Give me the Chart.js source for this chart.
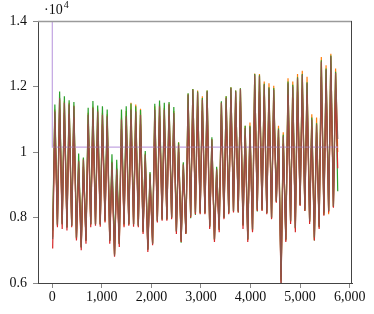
<!DOCTYPE html>
<html>
<head>
<meta charset="utf-8">
<script src="https://cdn.jsdelivr.net/npm/chart.js@4"></script>
<style>
  html, body { margin: 0; padding: 0; background: #fff; }
  #wrap { width: 374px; height: 314px; }
</style>
</head>
<body>
<div id="wrap"><canvas id="loadChart" width="374" height="314"></canvas></div>
<script>
// Данные: 60 суток по 96 отсчётов, для каждых суток — минимум (ночь) и максимум (день)
const samplesPerDay = 96;
const dayCount = 60;
const lastSample = 5759;

const brownLow = [7340,7790,7790,7690,7740,7390,7080,7290,7790,7790,
  7790,7900,7290,6830,7190,7790,7790,7790,7740,7560,
  7010,7190,7900,7950,7950,8000,7590,7290,7540,8050,
  8150,8150,8150,7740,7340,7640,8000,8150,8200,8200,
  7790,7340,7640,8250,8250,8150,8000,8500,5900,7340,
  7900,7690,8400,8250,7900,7390,7740,8150,8200,8350];
const brownPeak = [11240,11650,11500,11450,11400,9720,9770,11140,11340,11240,
  11140,11090,9670,9470,10990,11090,11300,11240,11140,9920,
  9320,11290,11400,11290,11450,11190,10230,9620,11750,11900,
  11820,11600,11850,10380,9470,11500,11650,11950,11850,11920,
  10730,10760,12360,12310,12050,11950,11900,10680,10480,12100,
  12000,12250,12360,12100,10990,10840,12760,12510,12920,12410];

const greenLow = [7600,7750,7820,7700,7760,7350,7100,7300,7800,7800,
  7800,7920,7300,6880,7200,7800,7800,7800,7760,7580,
  7050,7220,7880,7930,7940,7990,7560,7230,7500,7980,
  8080,8130,8120,7700,7320,7620,7990,8120,8180,8150,
  7750,7320,7600,8180,8220,8130,7990,8480,6100,7300,
  7880,7680,8380,8200,7860,7300,7700,8080,8200,8320];
const greenPeak = [11450,11850,11700,11580,11530,9950,9830,11350,11560,11420,
  11400,11300,9930,9760,11300,11400,11480,11400,11280,10030,
  9390,11470,11570,11500,11530,11370,10290,9690,11790,11920,
  11850,11650,11880,10450,9550,11550,11700,11980,11880,11950,
  10800,10800,12380,12340,12080,11980,11950,10720,10530,12150,
  12050,12280,12380,12130,11050,10880,12800,12550,12950,12450];

const orangeLow = [7400,7780,7800,7700,7750,7380,7090,7300,7780,7800,
  7780,7880,7280,6850,7200,7750,7780,7800,7750,7550,
  7020,7200,7900,7960,7940,8000,7600,7300,7520,8020,
  8120,8150,8140,7720,7330,7630,7990,8140,8190,8190,
  7780,7330,7620,8230,8240,8140,7980,8480,6050,7320,
  7880,7660,8380,8230,7880,7320,7700,8120,8100,8320];
const orangePeak = [11300,11600,11550,11500,11420,9750,9800,11200,11380,11300,
  11200,11150,9700,9500,11050,11250,11500,11450,11320,9950,
  9350,11400,11450,11350,11480,11250,10300,9650,11780,11920,
  11880,11700,11880,10400,9500,11520,11700,11980,11880,11950,
  10800,10900,12400,12380,12150,12100,12020,10800,10600,12250,
  12150,12380,12480,12300,11150,11050,12900,12650,13000,12550];

const redLow = [7050,7700,7650,7600,7700,7300,7000,7200,7700,7750,
  7720,7850,7200,6800,7100,7700,7750,7720,7700,7500,
  6950,7150,7850,7900,7900,7950,7500,7250,7500,8000,
  8100,8100,8100,7650,7250,7550,7950,8100,8150,8150,
  7650,7250,7550,8200,8200,8100,7950,8450,6000,7250,
  7800,7550,8350,8200,7800,7300,7650,8050,8150,8300];
const redPeak = [10900,11300,11200,11150,11050,9500,9550,10850,11000,10900,
  10850,10800,9450,9300,10700,10800,11000,10900,10850,9700,
  9150,10950,11100,11000,11100,10900,10000,9450,11300,11450,
  11400,11250,11450,10150,9300,11150,11300,11600,11500,11550,
  10500,10550,11900,11850,11700,11600,11550,10450,10250,11750,
  11650,11850,11950,11750,10750,10600,12300,12100,12450,11950];

// значение в последнем отсчёте каждой серии
const endValues = { brown: 10400, green: 8800, orange: 10000, red: 9500 };

// фиолетовая серия: выброс в нулевой точке, затем константа
const purpleX = [0, 1, lastSample];
const purpleY = [16000, 10150, 10150];

// подписи осей
const xTickValues = [0, 1000, 2000, 3000, 4000, 5000, 6000];
const yTickValues = [6000, 8000, 10000, 12000, 14000];

// Сборка точек (x — номер отсчёта)
function buildSeries(low, peak, endValue) {
  const pts = [];
  for (let d = 0; d < dayCount; d++) {
    pts.push({ x: d * samplesPerDay + 8, y: low[d] });
    pts.push({ x: d * samplesPerDay + 52, y: peak[d] });
  }
  pts.push({ x: lastSample, y: endValue });
  return pts;
}

const lineStyle = { borderWidth: 1.2, pointRadius: 0, tension: 0, fill: false };

// Множитель ·10^4 над осью Y и рамка
const exponentLabel = {
  id: 'exponentLabel',
  afterDraw(chart) {
    const c = chart.ctx;
    const area = chart.chartArea;
    c.save();
    c.fillStyle = '#111';
    c.textBaseline = 'alphabetic';
    c.font = '14px "Liberation Serif"';
    const base = '\u00b710';
    c.fillText(base, 44, 14);
    const w = c.measureText(base).width;
    c.font = '10px "Liberation Serif"';
    c.fillText('4', 44 + w + 1, 8);
    // рамка: верх серый, справа тёмная
    c.lineWidth = 1.6;
    c.strokeStyle = '#9a9a9a';
    c.beginPath();
    c.moveTo(area.left, area.top + 0.5);
    c.lineTo(area.right, area.top + 0.5);
    c.stroke();
    c.lineWidth = 1;
    c.strokeStyle = '#444';
    c.beginPath();
    c.moveTo(area.right - 0.5, area.top);
    c.lineTo(area.right - 0.5, area.bottom);
    c.stroke();
    c.restore();
  }
};

const ctx = document.getElementById('loadChart').getContext('2d');
const chart = new Chart(ctx, {
  type: 'line',
  data: {
    datasets: [
      Object.assign({ data: buildSeries(brownLow, brownPeak, endValues.brown), borderColor: '#8c564b', order: 0 }, lineStyle),
      Object.assign({ data: purpleX.map((x, i) => ({ x: x, y: purpleY[i] })), borderColor: '#c3a6e2', order: 1 }, lineStyle),
      Object.assign({ data: buildSeries(redLow, redPeak, endValues.red), borderColor: '#d62728', order: 2 }, lineStyle),
      Object.assign({ data: buildSeries(greenLow, greenPeak, endValues.green), borderColor: '#2ca02c', order: 3 }, lineStyle),
      Object.assign({ data: buildSeries(orangeLow, orangePeak, endValues.orange), borderColor: '#ff7f0e', order: 4 }, lineStyle)
    ]
  },
  options: {
    responsive: false,
    animation: false,
    layout: { padding: { top: 21, right: 22, left: 0, bottom: 0 } },
    plugins: { legend: { display: false }, tooltip: { enabled: false } },
    scales: {
      x: {
        type: 'linear',
        min: -288,
        max: 6047,
        afterBuildTicks: s => { s.ticks = xTickValues.map(v => ({ value: v })); },
        afterFit: s => { s.height = 31; },
        grid: { drawOnChartArea: false, drawTicks: true, tickLength: 5, color: '#888' },
        border: { display: true, color: '#444' },
        ticks: {
          maxRotation: 0,
          autoSkip: false,
          padding: 1,
          color: '#111',
          font: { family: 'Liberation Serif', size: 14 },
          callback: v => v.toLocaleString('en-US')
        }
      },
      y: {
        min: 6000,
        max: 14000,
        afterBuildTicks: s => { s.ticks = yTickValues.map(v => ({ value: v })); },
        afterFit: s => { s.width = 38; },
        grid: { drawOnChartArea: false, drawTicks: true, tickLength: 5, color: '#888' },
        border: { display: true, color: '#444' },
        ticks: {
          padding: 6,
          color: '#111',
          font: { family: 'Liberation Serif', size: 14 },
          callback: v => String(v / 10000)
        }
      }
    }
  },
  plugins: [exponentLabel]
});
</script>
</body>
</html>
